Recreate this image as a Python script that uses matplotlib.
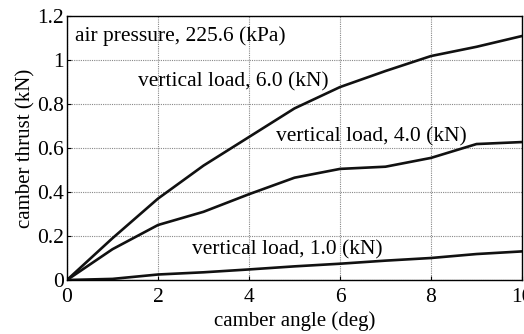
import matplotlib
matplotlib.use("Agg")
import matplotlib.pyplot as plt

angle = [0, 1, 2, 3, 4, 5, 6, 7, 8, 9, 10]
load6 = [0, 0.19, 0.37, 0.52, 0.65, 0.78, 0.877, 0.95, 1.018, 1.06, 1.109]
load4 = [0, 0.14, 0.25, 0.31, 0.39, 0.465, 0.505, 0.515, 0.555, 0.618, 0.627]
load1 = [0, 0.005, 0.025, 0.035, 0.048, 0.062, 0.074, 0.088, 0.10, 0.118, 0.13]

plt.rcParams['font.family'] = ['Liberation Serif', 'DejaVu Serif']
fig = plt.figure(figsize=(5.24, 3.34), dpi=100)
ax = fig.add_axes([67/524, 1-280/334, (522-67)/524, (280-16)/334])
for s in (load6, load4, load1):
    ax.plot(angle, s, color='#111111', lw=1.9)
ax.set_xlim(0, 10)
ax.set_ylim(0, 1.2)
ax.set_xticks([0, 2, 4, 6, 8, 10])
ax.set_yticks([0, 0.2, 0.4, 0.6, 0.8, 1.0, 1.2])
ax.set_yticklabels(['0', '0.2', '0.4', '0.6', '0.8', '1', '1.2'])
ax.grid(True, color='#888888', linestyle=(0, (1, 1)), lw=0.8)
ax.tick_params(direction='in', labelsize=15.5, length=3, pad=2)
ax.tick_params(axis='x', pad=6)
for sp in ax.spines.values():
    sp.set_linewidth(1.0)
ax.set_xlabel('camber angle (deg)', fontsize=15, labelpad=3)
ax.set_ylabel('camber thrust (kN)', fontsize=15, labelpad=1)
fs = 15.5
ax.text(0.18, 1.11, 'air pressure, 225.6 (kPa)', fontsize=fs, va='center')
ax.text(1.56, 0.90, 'vertical load, 6.0 (kN)', fontsize=fs, va='center')
ax.text(4.6, 0.65, 'vertical load, 4.0 (kN)', fontsize=fs, va='center')
ax.text(2.75, 0.136, 'vertical load, 1.0 (kN)', fontsize=fs, va='center')
fig.savefig('out.png', dpi=100)
